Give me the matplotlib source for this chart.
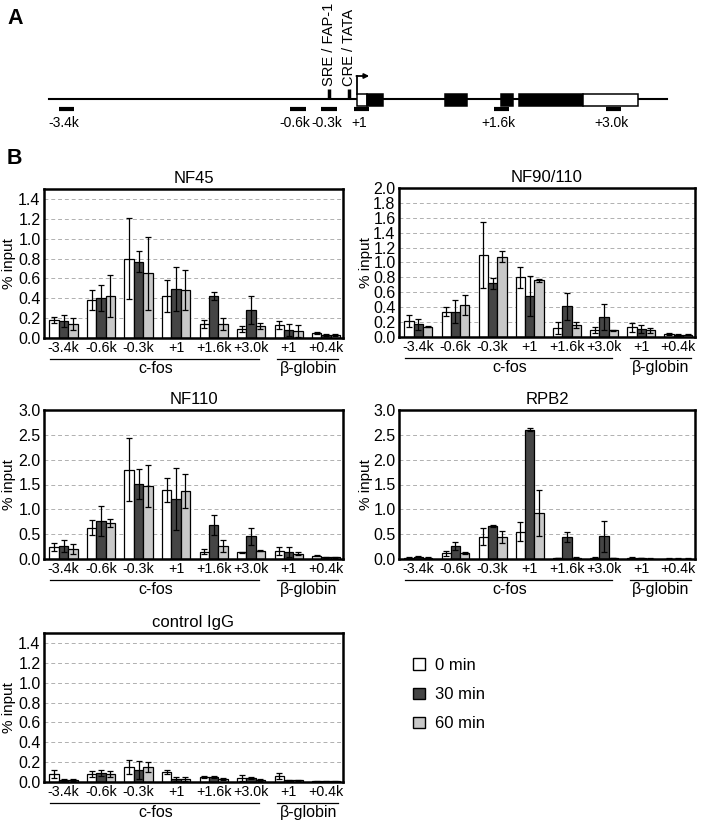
import numpy as np
import matplotlib.pyplot as plt
from matplotlib.patches import Rectangle, Patch

plt.rcParams['font.family'] = ['Liberation Sans', 'DejaVu Sans']

# ChIP regions and time points
regions = ['-3.4k', '-0.6k', '-0.3k', '+1', '+1.6k', '+3.0k', '+1', '+0.4k']
times = ['0 min', '30 min', '60 min']
colors = ['white', '#454545', '#c8c8c8']

# % input, rows = 0 / 30 / 60 min
nf45_mean = [[0.18, 0.38, 0.80, 0.42, 0.14, 0.09, 0.13, 0.05],
             [0.17, 0.40, 0.77, 0.49, 0.42, 0.28, 0.08, 0.03],
             [0.14, 0.42, 0.65, 0.48, 0.14, 0.12, 0.07, 0.03]]
nf45_err = [[0.03, 0.10, 0.41, 0.16, 0.04, 0.03, 0.04, 0.01],
            [0.06, 0.13, 0.11, 0.22, 0.04, 0.14, 0.06, 0.01],
            [0.06, 0.21, 0.37, 0.20, 0.06, 0.03, 0.06, 0.01]]

nf90_mean = [[0.22, 0.34, 1.10, 0.80, 0.12, 0.09, 0.13, 0.04],
             [0.17, 0.34, 0.72, 0.55, 0.41, 0.27, 0.11, 0.03],
             [0.14, 0.43, 1.08, 0.76, 0.16, 0.09, 0.09, 0.03]]
nf90_err = [[0.08, 0.06, 0.44, 0.14, 0.08, 0.04, 0.06, 0.01],
            [0.07, 0.15, 0.07, 0.27, 0.18, 0.17, 0.05, 0.01],
            [0.01, 0.14, 0.08, 0.02, 0.04, 0.005, 0.03, 0.005]]

nf110_mean = [[0.24, 0.63, 1.80, 1.39, 0.15, 0.14, 0.16, 0.07],
              [0.26, 0.76, 1.51, 1.21, 0.69, 0.46, 0.15, 0.04],
              [0.21, 0.73, 1.47, 1.37, 0.26, 0.17, 0.11, 0.04]]
nf110_err = [[0.08, 0.15, 0.64, 0.25, 0.05, 0.01, 0.08, 0.01],
             [0.12, 0.30, 0.30, 0.62, 0.20, 0.17, 0.10, 0.01],
             [0.10, 0.08, 0.43, 0.35, 0.12, 0.01, 0.03, 0.01]]

rpb2_mean = [[0.03, 0.12, 0.45, 0.55, 0.02, 0.03, 0.03, 0.01],
             [0.05, 0.27, 0.67, 2.60, 0.45, 0.46, 0.02, 0.01],
             [0.03, 0.12, 0.45, 0.92, 0.03, 0.02, 0.01, 0.01]]
rpb2_err = [[0.01, 0.05, 0.17, 0.19, 0.005, 0.005, 0.005, 0.005],
            [0.01, 0.08, 0.02, 0.03, 0.10, 0.31, 0.005, 0.005],
            [0.01, 0.02, 0.12, 0.46, 0.005, 0.005, 0.005, 0.005]]

igg_mean = [[0.08, 0.08, 0.15, 0.10, 0.05, 0.04, 0.06, 0.01],
            [0.02, 0.09, 0.12, 0.03, 0.05, 0.04, 0.02, 0.01],
            [0.02, 0.08, 0.15, 0.03, 0.03, 0.02, 0.02, 0.01]]
igg_err = [[0.04, 0.03, 0.07, 0.02, 0.01, 0.03, 0.03, 0.005],
           [0.01, 0.03, 0.09, 0.02, 0.01, 0.01, 0.005, 0.005],
           [0.01, 0.03, 0.05, 0.02, 0.01, 0.01, 0.005, 0.005]]

# c-fos gene map (kb relative to transcription start)
gene_span = [-3.54, 3.56]
exons = [(0.0, 0.11, 'white'), (0.11, 0.30, 'black'), (1.01, 1.26, 'black'),
         (1.66, 1.79, 'black'), (1.86, 2.60, 'black'), (2.60, 3.23, 'white')]
probe_kb = [-3.34, -0.68, -0.32, 0.05, 1.66, 2.95]
probe_labels = ['-3.4k', '-0.6k', '-0.3k', '+1', '+1.6k', '+3.0k']
sre_kb = -0.32
cre_kb = -0.09

fig = plt.figure(figsize=(7.01, 8.22), dpi=100)

# ---- panel A
ax_a = fig.add_axes([0, 1 - 140 / 822, 1, 140 / 822])
ax_a.set_xlim(-357 / 87, 344 / 87)
ax_a.set_ylim(140, 0)
ax_a.axis('off')
ax_a.plot(gene_span, [99, 99], color='black', lw=1.5, zorder=1)
for s, e, c in exons:
    ax_a.add_patch(Rectangle((s, 94), e - s, 12, facecolor=c, edgecolor='black', lw=1.1, zorder=2))
for p, lab in zip(probe_kb, probe_labels):
    ax_a.plot([p - 0.09, p + 0.09], [109, 109], color='black', lw=3, solid_capstyle='butt')
    ax_a.text(p - 0.03, 116, lab, ha='center', va='top', fontsize=10)
for p, lab in [(sre_kb, 'SRE / FAP-1'), (cre_kb, 'CRE / TATA')]:
    ax_a.plot([p, p], [89, 99], color='black', lw=2.5, solid_capstyle='butt')
    ax_a.text(p, 86, lab, rotation=90, ha='center', va='bottom', fontsize=10.5)
ax_a.plot([0, 0], [94, 76], color='black', lw=1.3)
ax_a.annotate('', xy=(0.14, 76), xytext=(-0.007, 76),
              arrowprops=dict(arrowstyle='-|>', lw=1.3, color='black', mutation_scale=7,
                              shrinkA=0, shrinkB=0))
fig.text(7 / 701, 1 - 19 / 822, 'A', fontsize=15.5, fontweight='bold', ha='left', va='center')
fig.text(7 / 701, 1 - 158 / 822, 'B', fontsize=15.5, fontweight='bold', ha='left', va='center')


def draw_panel(ax, title, means, errs, ymax, ystep, ylab_x):
    x = np.arange(len(regions))
    w = 0.25
    for i in range(3):
        ax.bar(x + (i - 1) * w, means[i], w, yerr=errs[i], color=colors[i],
               edgecolor='black', linewidth=0.9, zorder=2,
               error_kw=dict(ecolor='black', elinewidth=0.9, capsize=2.5, capthick=0.9))
    ax.set_xlim(-0.52, 7.45)
    ax.set_ylim(0, ymax)
    ax.set_yticks(np.arange(0, ymax + 1e-9, ystep))
    ax.yaxis.set_major_formatter('{x:.1f}')
    ax.grid(axis='y', linestyle=(0, (4, 3)), color='#b0b0b0', lw=0.7)
    ax.set_axisbelow(True)
    ax.set_xticks(x)
    ax.set_xticklabels(regions, fontsize=10.3)
    ax.tick_params(axis='y', labelsize=11.5)
    ax.tick_params(length=0, pad=2.5)
    for sp in ax.spines.values():
        sp.set_linewidth(1.8)
    ax.set_title(title, fontsize=12, pad=4)
    ax.set_ylabel('% input', fontsize=11)
    ax.yaxis.set_label_coords(ylab_x, 0.5)
    tr = ax.get_xaxis_transform()
    ax.plot([-0.36, 5.21], [-0.14, -0.14], color='black', lw=0.9, transform=tr, clip_on=False)
    ax.plot([5.69, 7.33], [-0.14, -0.14], color='black', lw=0.9, transform=tr, clip_on=False)
    ax.text(2.45, -0.155, 'c-fos', transform=tr, ha='center', va='top', fontsize=11.5)
    ax.text(6.53, -0.155, 'β-globin', transform=tr, ha='center', va='top', fontsize=11.5)


h = 149 / 822
ax1 = fig.add_axes([44 / 701, 1 - 338 / 822, 299 / 701, h])
ax2 = fig.add_axes([399 / 701, 1 - 337 / 822, 296 / 701, h])
ax3 = fig.add_axes([44 / 701, 1 - 559 / 822, 299 / 701, h])
ax4 = fig.add_axes([399 / 701, 1 - 559 / 822, 296 / 701, h])
ax5 = fig.add_axes([44 / 701, 1 - 782 / 822, 299 / 701, h])

left_lab = -28 / 299
right_lab = -26 / 296
draw_panel(ax1, 'NF45', nf45_mean, nf45_err, 1.5, 0.2, left_lab)
ax1.set_yticks(np.arange(0, 1.41, 0.2))
draw_panel(ax2, 'NF90/110', nf90_mean, nf90_err, 2.0, 0.2, right_lab)
draw_panel(ax3, 'NF110', nf110_mean, nf110_err, 3.0, 0.5, left_lab)
draw_panel(ax4, 'RPB2', rpb2_mean, rpb2_err, 3.0, 0.5, right_lab)
draw_panel(ax5, 'control IgG', igg_mean, igg_err, 1.5, 0.2, left_lab)
ax5.set_yticks(np.arange(0, 1.41, 0.2))

handles = [Patch(facecolor=c, edgecolor='black', lw=1) for c in colors]
fig.legend(handles, times, loc='upper left', bbox_to_anchor=(398 / 701, 1 - 643 / 822),
           frameon=False, fontsize=12, handlelength=0.7, handleheight=0.7,
           handletextpad=0.6, labelspacing=0.85)

fig.savefig('out.png', dpi=100)
